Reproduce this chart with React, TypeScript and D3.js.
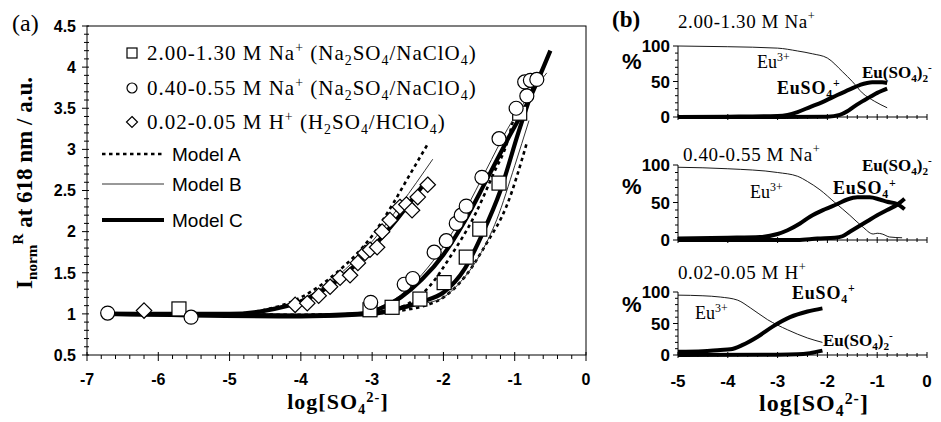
import React from 'react';
import * as d3 from 'd3';

// ---------- panel (a): measured intensities ----------
const squareX = [-5.71, -3.03, -2.72, -2.33, -1.99, -1.68, -1.49, -1.22, -0.93];
const squareY = [1.06, 1.05, 1.08, 1.18, 1.38, 1.69, 2.03, 2.59, 3.44];

const circleX = [-6.71, -5.54, -3.02, -2.55, -2.43, -2.13, -1.96, -1.82, -1.75, -1.68, -1.46, -1.22, -0.98, -0.83, -0.86, -0.78, -0.69];
const circleY = [1.01, 0.96, 1.14, 1.36, 1.43, 1.75, 1.89, 2.10, 2.20, 2.31, 2.66, 3.13, 3.50, 3.65, 3.82, 3.84, 3.85];

const diamondX = [-6.2, -4.08, -3.91, -3.75, -3.59, -3.45, -3.31, -3.2, -3.1, -3.03, -2.93, -2.86, -2.75, -2.61, -2.52, -2.44, -2.36, -2.22];
const diamondY = [1.04, 1.11, 1.13, 1.22, 1.33, 1.44, 1.47, 1.62, 1.74, 1.78, 1.81, 2.0, 2.14, 2.3, 2.33, 2.26, 2.42, 2.57];

// ---------- panel (a): model curves [log SO4, I] ----------
const modelA_H = [[-6.7, 1.0], [-5, 1.0], [-4.5, 1.05], [-4, 1.2], [-3.5, 1.5], [-3, 1.95], [-2.7, 2.35], [-2.5, 2.65], [-2.23, 3.05]];
const modelB_H = [[-6.7, 1.0], [-5, 1.0], [-4.5, 1.04], [-4, 1.17], [-3.5, 1.45], [-3, 1.88], [-2.6, 2.33], [-2.15, 2.88]];
const modelC_H = [[-6.7, 1.0], [-5, 1.0], [-4.5, 1.04], [-4, 1.15], [-3.5, 1.4], [-3, 1.8], [-2.7, 2.1], [-2.3, 2.55]];

const modelA_M = [[-6.7, 1.0], [-4, 0.99], [-3.2, 1.0], [-2.8, 1.04], [-2.5, 1.12], [-2.2, 1.33], [-1.9, 1.7], [-1.56, 2.2], [-1.3, 2.7], [-1.1, 3.1], [-0.97, 3.55]];
const modelB_M = [[-6.7, 1.0], [-4, 0.99], [-3.2, 1.01], [-2.9, 1.08], [-2.6, 1.23], [-2.3, 1.48], [-2.0, 1.82], [-1.7, 2.25], [-1.4, 2.75], [-1.1, 3.25], [-0.55, 3.93]];
const modelC_M = [[-6.7, 1.0], [-4, 0.98], [-3.2, 1.0], [-2.9, 1.06], [-2.6, 1.2], [-2.3, 1.42], [-2.0, 1.72], [-1.7, 2.13], [-1.4, 2.62], [-1.1, 3.12], [-0.8, 3.6], [-0.5, 4.2]];

const modelA_S = [[-6.7, 1.0], [-4, 0.98], [-3, 1.0], [-2.6, 1.04], [-2.3, 1.09], [-2.0, 1.2], [-1.7, 1.45], [-1.4, 1.85], [-1.11, 2.32], [-0.83, 3.08]];
const modelB_S = [[-6.7, 1.0], [-4, 0.98], [-3, 1.01], [-2.6, 1.05], [-2.3, 1.12], [-2.0, 1.2], [-1.77, 1.38], [-1.5, 1.7], [-1.25, 2.15], [-1.0, 2.8], [-0.8, 3.35]];
const modelC_S = [[-6.7, 1.0], [-4, 0.97], [-3, 1.0], [-2.7, 1.05], [-2.3, 1.15], [-2.0, 1.26], [-1.7, 1.55], [-1.45, 1.98], [-1.2, 2.5], [-0.95, 3.2], [-0.7, 3.85]];

// ---------- panel (b): speciation, % ----------
const eu3_1 = [[-5, 100], [-4, 99], [-3, 97], [-2.6, 93], [-2.3, 89], [-2.0, 83], [-1.7, 64], [-1.5, 50], [-1.3, 34], [-1.05, 22], [-0.8, 13]];
const euso4_1 = [[-5, 0], [-4, 0.5], [-3, 1.5], [-2.8, 3], [-2.6, 7], [-2.35, 14], [-2.1, 21], [-1.8, 31], [-1.55, 39], [-1.35, 45], [-1.1, 49], [-0.9, 49], [-0.8, 48]];
const eu2_1 = [[-5, 0], [-3, 0], [-2, 0.5], [-1.75, 3], [-1.6, 8], [-1.48, 14], [-1.3, 22], [-1.15, 28], [-1.0, 34], [-0.8, 40]];

const eu3_2 = [[-5, 97], [-4, 95], [-3.0, 90], [-2.6, 85], [-2.4, 78], [-2.15, 67], [-1.85, 50], [-1.55, 33], [-1.3, 18], [-1.08, 8], [-1.0, 9], [-0.9, 8], [-0.75, 4], [-0.5, 3]];
const euso4_2 = [[-5, 2], [-4, 3], [-3.35, 4], [-3.0, 8], [-2.8, 13], [-2.55, 22], [-2.35, 31], [-2.05, 41], [-1.8, 48], [-1.6, 54], [-1.4, 57], [-1.15, 57], [-0.95, 54], [-0.8, 51], [-0.6, 48], [-0.45, 41]];
const eu2_2 = [[-5, 0], [-2.6, 0], [-2.2, 2], [-1.85, 3], [-1.7, 5], [-1.55, 11], [-1.4, 17], [-1.2, 25], [-1.0, 33], [-0.8, 40], [-0.6, 47], [-0.45, 55]];

const eu3_3 = [[-5, 95], [-4.5, 94], [-4.15, 92], [-3.8, 87], [-3.55, 75], [-3.2, 56], [-2.8, 40], [-2.4, 27], [-2.1, 20]];
const euso4_3 = [[-5, 5], [-4.5, 6], [-4.15, 8], [-3.95, 9], [-3.7, 16], [-3.4, 29], [-3.1, 45], [-2.75, 60], [-2.4, 69], [-2.1, 74]];
const eu2_3 = [[-5, 0], [-3, 0.5], [-2.6, 1], [-2.35, 3], [-2.1, 7]];

// tick labels
const xTicksA = [-7, -6, -5, -4, -3, -2, -1, 0];
const yTicksA = [0.5, 1, 1.5, 2, 2.5, 3, 3.5, 4, 4.5];
const xTicksB = [-5, -4, -3, -2, -1, 0];
const yTicksB = [0, 50, 100];

// legend / label texts (parts: [text, 'sup' | 'sub'])
const legendSquare = [['2.00-1.30 M Na'], ['+', 'sup'], [' (Na'], ['2', 'sub'], ['SO'], ['4', 'sub'], ['/NaClO'], ['4', 'sub'], [')']];
const legendCircle = [['0.40-0.55 M Na'], ['+', 'sup'], [' (Na'], ['2', 'sub'], ['SO'], ['4', 'sub'], ['/NaClO'], ['4', 'sub'], [')']];
const legendDiamond = [['0.02-0.05 M H'], ['+', 'sup'], [' (H'], ['2', 'sub'], ['SO'], ['4', 'sub'], ['/HClO'], ['4', 'sub'], [')']];
const modelNames = ['Model A', 'Model B', 'Model C'];
const subTitles = [
    [['2.00-1.30 M Na'], ['+', 'sup']],
    [['0.40-0.55 M Na'], ['+', 'sup']],
    [['0.02-0.05 M H'], ['+', 'sup']],
];
const euLabel = [['Eu'], ['3+', 'sup']];
const euso4Label = [['EuSO'], ['4', 'sub'], ['+', 'sup']];
const eu2Label = [['Eu(SO'], ['4', 'sub'], [')'], ['2', 'sub'], ['-', 'sup']];
const xLabel = [['log[SO'], ['4', 'sub'], ['2-', 'sup'], [']']];
const yLabel = [['I'], ['norm', 'sub'], ['R', 'sup'], [' at 618 nm / a.u.']];

const serif = '"Liberation Serif", "Times New Roman", serif';
const sans = '"Liberation Sans", Arial, sans-serif';

const styleA = { stroke: '#000', strokeWidth: 2.6, strokeDasharray: '3.5,3.5', fill: 'none' };
const styleB = { stroke: '#333', strokeWidth: 1, fill: 'none' };
const styleC = { stroke: '#000', strokeWidth: 4.2, fill: 'none', strokeLinejoin: 'round' as const };

function Rich({ x, y, parts, size, weight = 'normal', anchor = 'start', family = serif, spacing = 0, transform = undefined, supShift = 0.4 }: any) {
    return (
        <text x={x} y={y} fontSize={size} fontWeight={weight} fontFamily={family}
            textAnchor={anchor} letterSpacing={spacing} transform={transform} fill="#000">
            {parts.map((p: string[], i: number) => {
                if (p[1] === 'sup') return <tspan key={i} fontSize={size * 0.66} baselineShift={size * supShift}>{p[0]}</tspan>;
                if (p[1] === 'sub') return <tspan key={i} fontSize={size * 0.66} baselineShift={-size * 0.22}>{p[0]}</tspan>;
                return <tspan key={i}>{p[0]}</tspan>;
            })}
        </text>
    );
}

function Marker({ shape, cx, cy, s }: any) {
    const st = { fill: '#fff', stroke: '#000', strokeWidth: 1.2 };
    if (shape === 'square') return <rect x={cx - s} y={cy - s} width={2 * s} height={2 * s} {...st} />;
    if (shape === 'circle') return <circle cx={cx} cy={cy} r={s} {...st} />;
    return <path d={`M${cx},${cy - s * 1.1}L${cx + s * 1.1},${cy}L${cx},${cy + s * 1.1}L${cx - s * 1.1},${cy}Z`} {...st} />;
}

// one of the three speciation plots of panel (b)
function Subplot({ xb, top, bottom, curves, title, titlePos, pctY, labels, showTicks }: any) {
    const yb = d3.scaleLinear().domain([0, 100]).range([bottom, top]);
    const line = d3.line<number[]>().x(d => xb(d[0])).y(d => yb(d[1])).curve(d3.curveMonotoneX);
    const x0 = xb(-5);
    return (
        <g>
            <Rich x={titlePos[0]} y={titlePos[1]} parts={title} size={19} spacing={0.6} />
            <text x={622} y={pctY} fontSize={22} fontWeight="bold" fontFamily={sans}>%</text>
            {/* axes */}
            <line x1={x0} x2={x0} y1={yb(100)} y2={yb(0)} stroke="#000" />
            <line x1={x0} x2={xb(0)} y1={yb(0)} y2={yb(0)} stroke="#000" />
            {d3.range(0, 101, 10).map(v => (
                <line key={'yt' + v} x1={x0 - (v % 50 === 0 ? 5 : 3)} x2={x0} y1={yb(v)} y2={yb(v)} stroke="#000" />
            ))}
            {d3.range(-5, 0.01, 0.2).map((v, i) => (
                <line key={'xt' + i} x1={xb(v)} x2={xb(v)} y1={yb(0) - (i % 5 === 0 ? 3 : 2)} y2={yb(0) + (i % 5 === 0 ? 3 : 2)} stroke="#000" />
            ))}
            {yTicksB.map(v => (
                <text key={'yl' + v} x={670} y={yb(v)} dy="0.36em" textAnchor="end" fontSize={17} fontWeight="bold" fontFamily={sans}>{v}</text>
            ))}
            {showTicks && xTicksB.map(v => (
                <text key={'xl' + v} x={xb(v)} y={387} textAnchor="middle" fontSize={17} fontWeight="bold" fontFamily={sans}>{v}</text>
            ))}
            {/* curves: Eu3+ thin, complexes thick */}
            <path d={line(curves[0]) || ''} stroke="#000" strokeWidth={0.9} fill="none" />
            <path d={line(curves[1]) || ''} stroke="#000" strokeWidth={4} fill="none" strokeLinejoin="round" />
            <path d={line(curves[2]) || ''} stroke="#000" strokeWidth={4} fill="none" strokeLinejoin="round" />
            <Rich x={labels[0][0]} y={labels[0][1]} parts={euLabel} size={18} />
            <Rich x={labels[1][0]} y={labels[1][1]} parts={euso4Label} size={18} weight="bold" spacing={0.8} />
            <Rich x={labels[2][0]} y={labels[2][1]} parts={eu2Label} size={17} weight="bold" />
        </g>
    );
}

export default function App() {
    const x = d3.scaleLinear().domain([-7, 0]).range([87, 586]);
    const y = d3.scaleLinear().domain([0.5, 4.5]).range([355, 26]);
    const line = d3.line<number[]>().x(d => x(d[0])).y(d => y(d[1])).curve(d3.curveMonotoneX);

    const xb = d3.scaleLinear().domain([-5, 0]).range([678, 927]);

    const models = [
        [modelA_S, styleA], [modelA_M, styleA], [modelA_H, styleA],
        [modelB_S, styleB], [modelB_M, styleB], [modelB_H, styleB],
        [modelC_S, styleC], [modelC_M, styleC], [modelC_H, styleC],
    ];

    const series = [
        { shape: 'diamond', xs: diamondX, ys: diamondY },
        { shape: 'square', xs: squareX, ys: squareY },
        { shape: 'circle', xs: circleX, ys: circleY },
    ];

    return (
        <svg width={941} height={422} style={{ position: 'absolute', left: 0, top: 0, background: '#fff' }}>
            <rect width={941} height={422} fill="#fff" />

            {/* ----- panel (a) ----- */}
            <text x={12} y={31} fontSize={24} fontFamily={serif}>(a)</text>
            <rect x={x(-7)} y={y(4.5)} width={x(0) - x(-7)} height={y(0.5) - y(4.5)} fill="none" stroke="#000" />
            {d3.range(0.5, 4.51, 0.1).map((v, i) => (
                <line key={'ya' + i} x1={x(-7) - (i % 5 === 0 ? 5 : 3)} x2={x(-7) + 2} y1={y(v)} y2={y(v)} stroke="#000" />
            ))}
            {d3.range(-7, 0.01, 0.2).map((v, i) => (
                <line key={'xa' + i} x1={x(v)} x2={x(v)} y1={y(0.5) - (i % 5 === 0 ? 3 : 0)} y2={y(0.5) + (i % 5 === 0 ? 6 : 4)} stroke="#000" />
            ))}
            {yTicksA.map(v => (
                <text key={'yl' + v} x={76} y={y(v)} dy="0.36em" textAnchor="end" fontSize={16} fontWeight="bold" fontFamily={sans}>{v}</text>
            ))}
            {xTicksA.map(v => (
                <text key={'xl' + v} x={x(v)} y={385} textAnchor="middle" fontSize={16} fontWeight="bold" fontFamily={sans}>{v}</text>
            ))}
            <Rich x={338} y={409} parts={xLabel} size={22} weight="bold" anchor="middle" spacing={1} supShift={0.3} />
            <Rich x={0} y={0} parts={yLabel} size={23} weight="bold" anchor="middle" transform="translate(32,183) rotate(-90)" />

            {models.map((m: any, i) => <path key={'m' + i} d={line(m[0]) || ''} {...m[1]} />)}

            {series.map(s => s.xs.map((v, i) => (
                <Marker key={s.shape + i} shape={s.shape} cx={x(v)} cy={y(s.ys[i])} s={7} />
            )))}

            {/* legend */}
            <Marker shape="square" cx={132} cy={53} s={5} />
            <Rich x={147} y={60} parts={legendSquare} size={21} spacing={1} />
            <Marker shape="circle" cx={132} cy={88} s={5} />
            <Rich x={147} y={95} parts={legendCircle} size={21} spacing={1} />
            <Marker shape="diamond" cx={132} cy={122} s={5} />
            <Rich x={147} y={129} parts={legendDiamond} size={21} spacing={1} />
            {[styleA, styleB, styleC].map((st, i) => {
                const ly = [154, 184, 220][i];
                return (
                    <g key={'lg' + i}>
                        <line x1={102} x2={164} y1={ly} y2={ly} {...st} />
                        <text x={172} y={ly + 7} fontSize={19} fontFamily={sans}>{modelNames[i]}</text>
                    </g>
                );
            })}

            {/* ----- panel (b) ----- */}
            <text x={612} y={27} fontSize={23} fontWeight="bold" fontFamily={serif}>(b)</text>
            <Subplot xb={xb} top={46} bottom={117} curves={[eu3_1, euso4_1, eu2_1]} title={subTitles[0]}
                titlePos={[678, 28]} pctY={69} labels={[[757, 68], [777, 94], [862, 78]]} />
            <Subplot xb={xb} top={165} bottom={240} curves={[eu3_2, euso4_2, eu2_2]} title={subTitles[1]}
                titlePos={[683, 161]} pctY={194} labels={[[750, 198], [833, 194], [862, 171]]} />
            <Subplot xb={xb} top={292} bottom={355} curves={[eu3_3, euso4_3, eu2_3]} title={subTitles[2]}
                titlePos={[678, 279]} pctY={312} labels={[[695, 319], [792, 299], [823, 346]]} showTicks />
            <Rich x={814} y={411} parts={xLabel} size={24} weight="bold" anchor="middle" spacing={1} supShift={0.3} />
        </svg>
    );
}
